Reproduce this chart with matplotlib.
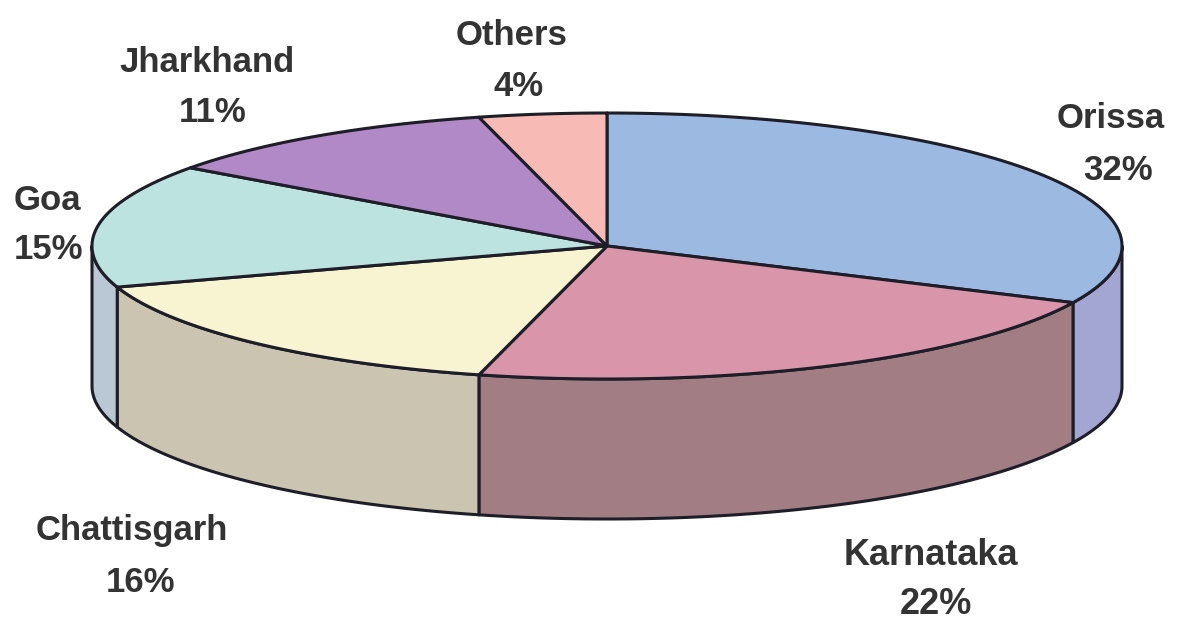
import numpy as np
import matplotlib
matplotlib.use('Agg')
import matplotlib.pyplot as plt
from matplotlib.patches import Polygon


# ---------------- data ----------------
states = ['Orissa', 'Karnataka', 'Chattisgarh', 'Goa', 'Jharkhand', 'Others']
shares = [32, 22, 16, 15, 11, 4]
top_colors = ['#9cb9e2', '#d995aa', '#f8f3d0', '#bde3e0', '#b189c7', '#f8bab4']
side_colors = ['#a3a6d3', '#a27e84', '#cbc4b0', '#b9c8d4', '#9a7aa8', '#d8a09a']

# ---------------- layout (pixels) ----------------
cx, cy = 607, 246      # centre of the top face
rx, ry = 515, 133      # ellipse radii
depth = 140            # thickness of the pie
edge = '#1e1e28'
lw = 2.2

# label anchors: (x, baseline) for the name and the percent line
name_pos = [(1111, 128), (931, 565), (132, 540), (47, 210), (207, 72), (512, 45)]
pct_pos = [(1118, 180), (936, 614), (141, 592), (48, 259), (213, 122), (519, 96)]


def arc(t0, t1, dy=0, n=200):
    t = np.radians(np.linspace(t0, t1, n))
    return np.column_stack([cx + rx * np.cos(t), cy - ry * np.sin(t) + dy])


fig = plt.figure(figsize=(11.79, 6.21), dpi=100)
ax = fig.add_axes([0, 0, 1, 1])
ax.set_xlim(0, 1179)
ax.set_ylim(621, 0)
ax.axis('off')

total = float(sum(shares))
starts = []
ends = []
a = 90.0
for s in shares:
    starts.append(a)
    a = a - 360.0 * s / total
    ends.append(a)

# ---------- side walls (front half only) ----------
for st, en, col in zip(starts, ends, side_colors):
    lo = max(en, -180.0)
    hi = min(st, 0.0)
    if hi <= lo:
        continue
    top = arc(hi, lo)
    bot = arc(lo, hi, dy=depth)
    ax.add_patch(Polygon(np.vstack([top, bot]), closed=True, facecolor=col,
                         edgecolor=edge, lw=lw, joinstyle='round'))

# ---------- top face ----------
for st, en, col in zip(starts, ends, top_colors):
    pts = np.vstack([[cx, cy], arc(st, en)])
    ax.add_patch(Polygon(pts, closed=True, facecolor=col,
                         edgecolor=edge, lw=lw, joinstyle='round'))

# ---------- labels ----------
for name, s, (nx, ny), (px, py) in zip(states, shares, name_pos, pct_pos):
    size = 26 if name == 'Karnataka' else 25
    ax.text(nx, ny, name, ha='center', va='baseline', fontsize=size,
            fontweight='bold', family='Liberation Sans', color='#333333')
    ax.text(px, py, f'{s}%', ha='center', va='baseline', fontsize=size,
            fontweight='bold', family='Liberation Sans', color='#333333')

fig.savefig('out.png', dpi=100, facecolor='white')
